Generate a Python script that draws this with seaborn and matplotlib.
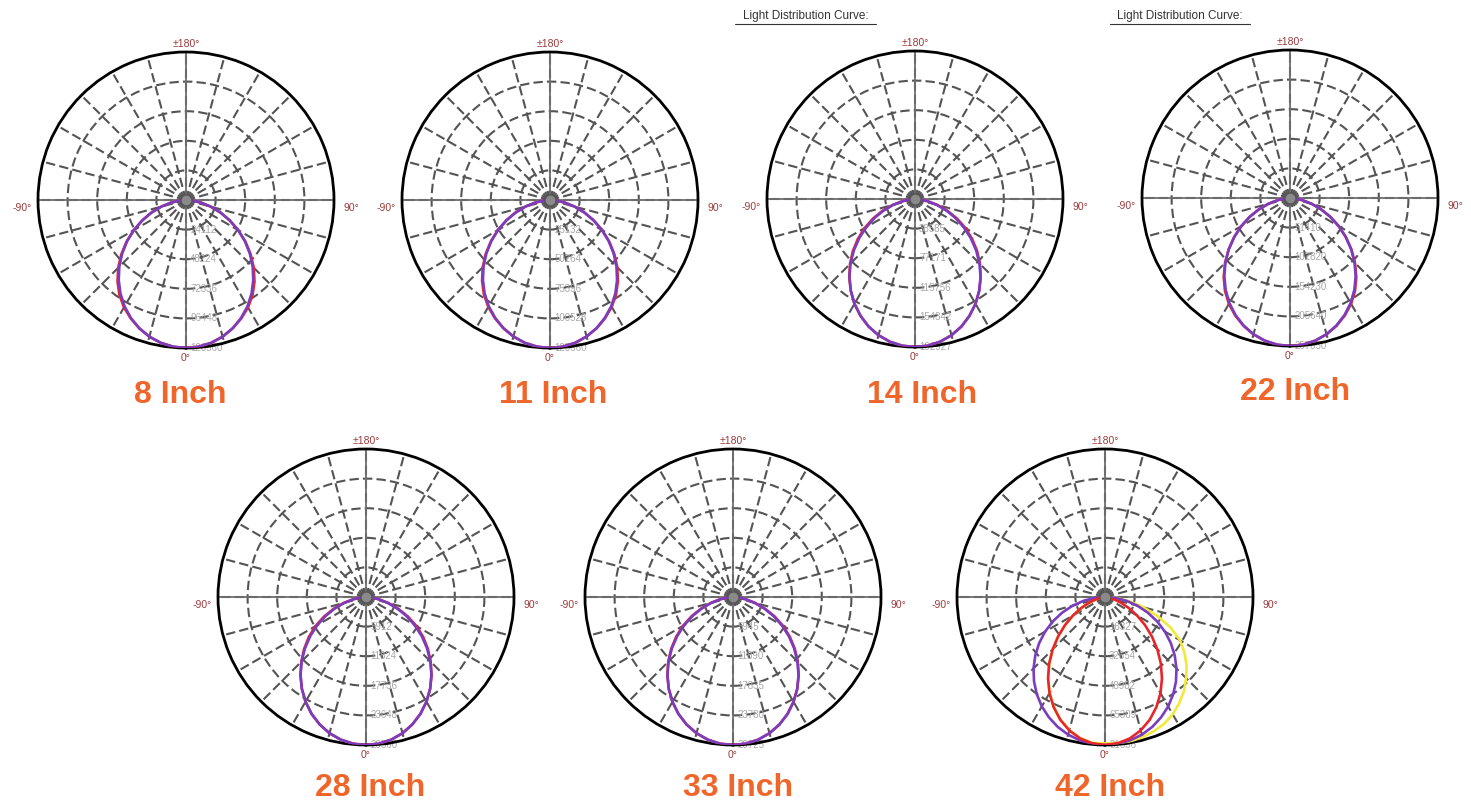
import numpy as np
import matplotlib
matplotlib.use("Agg")
import matplotlib.pyplot as plt
import seaborn as sns
from matplotlib.lines import Line2D

sns.set_style("white")
plt.rcParams["font.family"] = ["Liberation Sans", "DejaVu Sans"]

W, H = 1471, 802

# panel titles
SIZES = ["8 Inch", "11 Inch", "14 Inch", "22 Inch", "28 Inch", "33 Inch", "42 Inch"]

# ring values in cd (last one = outer circle)
RINGS_8 = [24112, 48224, 72336, 96448, 120560]
RINGS_11 = [25132, 50264, 75396, 100528, 125660]
RINGS_14 = [38585, 77171, 115756, 154342, 192927]
RINGS_22 = [51410, 102820, 154230, 205640, 257050]
RINGS_28 = [5912, 11824, 17736, 23648, 29560]
RINGS_33 = [5945, 11890, 17835, 23780, 29725]
RINGS_42 = [16327, 32654, 48982, 65309, 81636]

# gamma angles (deg) from nadir, one half of the curve
ANGLES = [0, 5, 10, 15, 20, 25, 30, 35, 40, 45, 50, 55, 60, 65, 70, 75, 80, 85, 90]

# relative intensity, % of the outer ring
PURPLE_8 = [100, 99.5, 98, 95.6, 92.2, 88, 83, 77.2, 70.7, 63.7, 56.3, 48.6, 40.6, 32.6, 24.8, 17.3, 10.3, 4.2, 0]
RED_8 = [100, 99.5, 98, 95.6, 92.3, 88.3, 83.8, 78.4, 72, 64.8, 57, 49, 40.8, 32.6, 24.8, 17.3, 10.3, 4.2, 0]
PURPLE_11 = [100, 99.5, 98, 95.5, 92.1, 87.8, 82.8, 77, 70.5, 63.5, 56.1, 48.4, 40.5, 32.5, 24.7, 17.2, 10.2, 4.1, 0]
RED_11 = [100, 99.5, 98, 95.5, 92.2, 88.1, 83.4, 77.9, 71.4, 64.3, 56.7, 48.8, 40.7, 32.6, 24.7, 17.2, 10.2, 4.1, 0]
PURPLE_14 = [100, 99.5, 97.9, 95.3, 91.7, 87.1, 81.8, 75.6, 68.9, 61.6, 53.9, 45.9, 37.9, 30, 22.3, 15.1, 8.6, 3.3, 0]
RED_14 = [100, 99.5, 97.9, 95.3, 91.7, 87.1, 81.8, 75.7, 69.1, 62.1, 54.8, 47.2, 39.4, 31.4, 23.4, 15.8, 8.9, 3.4, 0]
PURPLE_22 = [100, 99.5, 97.9, 95.3, 91.7, 87.2, 81.9, 75.8, 69, 61.7, 54, 46, 38, 30, 22.3, 15.1, 8.6, 3.3, 0]
RED_22 = [100, 99.5, 97.9, 95.4, 91.9, 87.6, 82.6, 76.6, 69.7, 62.1, 54.2, 46.1, 38, 30, 22.3, 15.1, 8.6, 3.3, 0]
PURPLE_28 = [100, 99.5, 97.9, 95.3, 91.6, 87.1, 81.7, 75.6, 68.8, 61.5, 53.8, 45.9, 37.9, 29.9, 22.2, 15, 8.6, 3.3, 0]
RED_28 = [100, 99.5, 97.9, 95.3, 91.6, 87.1, 81.7, 75.6, 68.9, 61.8, 54.6, 47.2, 39.5, 31.3, 23.2, 15.6, 8.8, 3.4, 0]
PURPLE_33 = [100, 99.5, 97.9, 95.3, 91.7, 87.2, 81.8, 75.7, 68.9, 61.6, 53.9, 46, 38, 30, 22.3, 15.1, 8.6, 3.3, 0]
RED_33 = [100, 99.5, 97.9, 95.3, 91.7, 87.2, 81.8, 75.7, 69, 61.9, 54.5, 46.9, 39.1, 31, 22.9, 15.4, 8.7, 3.3, 0]
PURPLE_42 = [100, 99.6, 98.3, 96.3, 93.4, 89.7, 85.4, 80.3, 74.6, 68.3, 61.5, 54.3, 46.7, 38.8, 30.7, 22.6, 14.6, 6.8, 0]
RED_42 = [100, 99.2, 97, 93.3, 88.3, 82.1, 75, 67.1, 58.7, 50, 41.3, 32.9, 25, 17.9, 11.7, 6.7, 3, 0.8, 0]
YELLOW_42_RIGHT = [99, 99.2, 99, 98, 96.5, 94.5, 91.5, 87.5, 83, 77.5, 72, 65.5, 58.5, 49, 38, 27, 17, 8, 0]
YELLOW_42_LEFT = [99, 99, 96.8, 93.1, 88.1, 81.9, 74.8, 66.9, 58.5, 49.8, 41.1, 32.7, 24.8, 17.7, 11.5, 6.5, 2.9, 0.7, 0]

PURPLE = "#7b3dbf"
RED = "#e8262a"
YELLOW = "#f3e83a"
ORANGE = "#f0652a"
DARKRED = "#9b3b3b"

# (rings, [(left, right, color), ...]) in drawing order
PANELS = [
    (RINGS_8, [(RED_8, RED_8, RED), (PURPLE_8, PURPLE_8, PURPLE)]),
    (RINGS_11, [(RED_11, RED_11, RED), (PURPLE_11, PURPLE_11, PURPLE)]),
    (RINGS_14, [(RED_14, RED_14, RED), (PURPLE_14, PURPLE_14, PURPLE)]),
    (RINGS_22, [(RED_22, RED_22, RED), (PURPLE_22, PURPLE_22, PURPLE)]),
    (RINGS_28, [(RED_28, RED_28, RED), (PURPLE_28, PURPLE_28, PURPLE)]),
    (RINGS_33, [(RED_33, RED_33, RED), (PURPLE_33, PURPLE_33, PURPLE)]),
    (RINGS_42, [(YELLOW_42_LEFT, YELLOW_42_RIGHT, YELLOW), (PURPLE_42, PURPLE_42, PURPLE),
                (RED_42, RED_42, RED)]),
]

# circle centres in pixels (x, y from top) and title positions
CENTERS = [(186, 200), (550, 200), (915, 199), (1290, 198), (366, 597), (733, 597), (1105, 597)]
TITLES = [(180, 395), (553, 395), (922, 395), (1295, 392), (370, 788), (738, 788), (1110, 788)]
R = 148


def full_curve(left, right):
    theta = [-a for a in ANGLES[:0:-1]] + ANGLES
    vals = left[:0:-1] + right
    return np.deg2rad(theta), np.array(vals)


def draw_panel(ax, rings, curves):
    rmax = rings[-1]
    ax.set_theta_zero_location("S")
    ax.set_theta_direction(1)
    ax.set_ylim(0, rmax)
    ax.set_xticks(np.deg2rad(np.arange(0, 360, 15)))
    ax.set_xticklabels([])
    ax.set_yticks(rings[:-1])
    ax.set_yticklabels([])
    ax.grid(True, color="#545454", linestyle=(0, (4.5, 2)), linewidth=1.5)
    ax.spines["polar"].set_color("black")
    ax.spines["polar"].set_linewidth(2)

    # solid main axes
    for a in [0, 90, 180, 270]:
        ax.plot([np.deg2rad(a)] * 2, [0, rmax], color="#6e6e6e", lw=1.3, zorder=2)

    # ring labels along the nadir
    for r in rings:
        ax.annotate(str(r), xy=(0, r), xytext=(3, 0), textcoords="offset points",
                    ha="left", va="center", fontsize=7, color="#a8a8a8", zorder=2)

    for left, right, color in curves:
        th, vals = full_curve(left, right)
        sns.lineplot(x=th, y=vals / 100 * rmax, ax=ax, sort=False, estimator=None,
                     color=color, lw=1.9, zorder=4)

    ax.plot([0], [0], "o", ms=8, mfc="#8a8a8a", mec="#555555", zorder=5)

    ax.text(0.5, 1.027, "±180°", transform=ax.transAxes, ha="center", va="center",
            fontsize=7.5, color=DARKRED)
    ax.text(-0.054, 0.473, "-90°", transform=ax.transAxes, ha="center", va="center",
            fontsize=7.5, color=DARKRED)
    ax.text(1.06, 0.473, "90°", transform=ax.transAxes, ha="center", va="center",
            fontsize=7.5, color=DARKRED)
    ax.text(0.5, -0.034, "0°", transform=ax.transAxes, ha="center", va="center",
            fontsize=7.5, color=DARKRED)
    ax.set_xlabel("")
    ax.set_ylabel("")


fig = plt.figure(figsize=(W / 100, H / 100), dpi=100)

for (rings, curves), (cx, cy), title, (tx, ty) in zip(PANELS, CENTERS, SIZES, TITLES):
    ax = fig.add_axes([(cx - R) / W, (H - cy - R) / H, 2 * R / W, 2 * R / H], projection="polar")
    draw_panel(ax, rings, curves)
    fig.text(tx / W, 1 - ty / H, title, ha="center", va="center", fontsize=23,
             fontweight="bold", color=ORANGE)

# header text above the 14 and 22 inch panels
for x0, x1 in [(735, 876), (1110, 1250)]:
    fig.text((x0 + x1) / 2 / W, 1 - 16 / H, "Light Distribution Curve:", ha="center", va="center",
             fontsize=8.5, color="#333333")
    fig.add_artist(Line2D([x0 / W, x1 / W], [1 - 24 / H] * 2, color="#333333", lw=0.8))

fig.savefig("out.png", dpi=100)
